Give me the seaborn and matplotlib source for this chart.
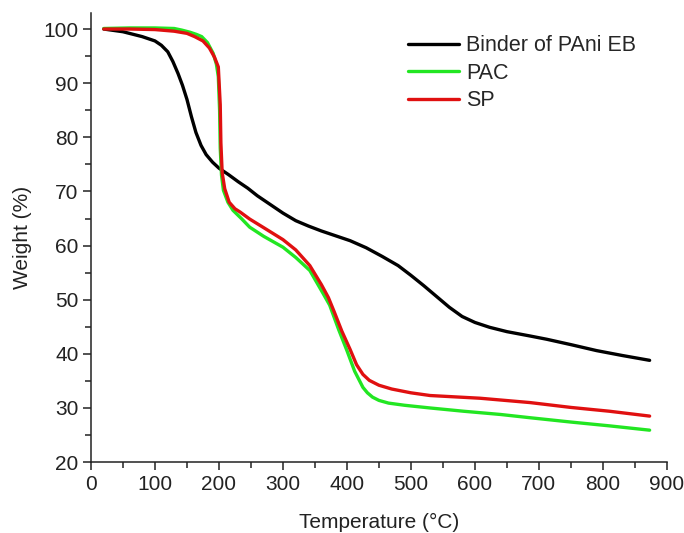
import numpy as np
import pandas as pd
import matplotlib
matplotlib.use('Agg')
import matplotlib.pyplot as plt
from matplotlib.ticker import MultipleLocator
import seaborn as sns

# TGA curves
binder_t = [20, 50, 80, 100, 110, 120, 128, 136, 143, 150, 157, 164, 172, 180, 190,
            200, 215, 230, 245, 260, 280, 300, 320, 340, 360, 385, 405, 430, 455,
            480, 500, 520, 540, 560, 580, 600, 623, 650, 686, 712, 750, 790, 830, 873]
binder_w = [100, 99.5, 98.6, 97.8, 97.0, 95.8, 94.0, 91.8, 89.6, 87.0, 83.8, 80.9,
            78.5, 76.8, 75.4, 74.3, 73.1, 71.8, 70.6, 69.2, 67.6, 66.0, 64.6, 63.6,
            62.7, 61.7, 60.9, 59.6, 58.0, 56.3, 54.5, 52.6, 50.6, 48.6, 46.9, 45.8,
            44.9, 44.1, 43.3, 42.7, 41.7, 40.6, 39.7, 38.8]

pac_t = [20, 60, 100, 130, 142, 155, 165, 173, 182, 191, 196, 199, 201, 202, 204,
         207, 214, 222, 235, 248, 270, 300, 320, 342, 363, 373, 387, 400, 412, 425,
         432, 440, 450, 465, 490, 530, 582, 640, 686, 750, 810, 873]
pac_w = [100.1, 100.2, 100.2, 100.1, 99.8, 99.4, 99.0, 98.6, 97.5, 95.5, 93.5, 91.2,
         85.0, 78.0, 73.0, 70.2, 68.0, 66.5, 65.0, 63.4, 61.7, 59.7, 57.8, 55.4, 51.1,
         49.0, 44.5, 40.6, 36.8, 33.8, 32.8, 32.0, 31.4, 30.9, 30.5, 30.0, 29.4, 28.8,
         28.2, 27.4, 26.7, 25.9]

sp_t = [20, 60, 100, 130, 150, 162, 175, 185, 193, 199, 202, 203, 205, 209, 216,
        225, 233, 248, 270, 300, 320, 342, 360, 371, 380, 392, 405, 415, 425, 435,
        450, 470, 500, 530, 608, 686, 750, 810, 873]
sp_w = [100, 100, 99.9, 99.6, 99.2, 98.6, 97.8, 96.5, 94.8, 93.0, 86.0, 79.0, 73.5,
        70.5, 68.0, 66.8, 66.2, 64.9, 63.3, 61.1, 59.2, 56.3, 52.8, 50.4, 47.8, 44.2,
        40.8, 38.0, 36.2, 35.1, 34.2, 33.5, 32.8, 32.3, 31.8, 31.0, 30.1, 29.4, 28.5]

series_names = ['Binder of PAni EB', 'PAC', 'SP']
series_colors = ['#000000', '#22e622', '#e01010']

sns.set_style('ticks')
plt.rcParams['font.family'] = ['Liberation Sans', 'DejaVu Sans']

fig = plt.figure(figsize=(6.84, 5.33), dpi=100)
ax = fig.add_axes([0.133, 0.133, 0.842, 0.843])

curves = [(binder_t, binder_w), (pac_t, pac_w), (sp_t, sp_w)]
for (t, w), name, col in zip(curves, series_names, series_colors):
    df = pd.DataFrame({'T': t, 'W': w})
    sns.lineplot(data=df, x='T', y='W', ax=ax, color=col, lw=2.4,
                 sort=False, estimator=None, label=name)

ax.set_xlim(0, 900)
ax.set_ylim(20, 103)
ax.xaxis.set_major_locator(MultipleLocator(100))
ax.xaxis.set_minor_locator(MultipleLocator(50))
ax.yaxis.set_major_locator(MultipleLocator(10))
ax.yaxis.set_minor_locator(MultipleLocator(5))
ax.set_yticks([20, 30, 40, 50, 60, 70, 80, 90, 100])

sns.despine(ax=ax)
for s in ['left', 'bottom']:
    ax.spines[s].set_linewidth(1.1)
    ax.spines[s].set_color('#222222')
ax.tick_params(which='major', direction='out', length=6, width=1.1,
               labelsize=15, colors='#222222', pad=3)
ax.tick_params(which='minor', direction='out', length=4, width=1.1, colors='#222222')

ax.set_xlabel('Temperature (°C)', fontsize=15, color='#222222', labelpad=14)
ax.set_ylabel('Weight (%)', fontsize=15, color='#222222', labelpad=8)

leg = ax.legend(loc='upper left', bbox_to_anchor=(0.55, 0.95), frameon=False,
                fontsize=15.5, handlelength=2.4, handletextpad=0.3,
                labelspacing=0.3, borderaxespad=0, borderpad=0)
for line in leg.get_lines():
    line.set_linewidth(2.4)

fig.savefig('out.png', dpi=100)
